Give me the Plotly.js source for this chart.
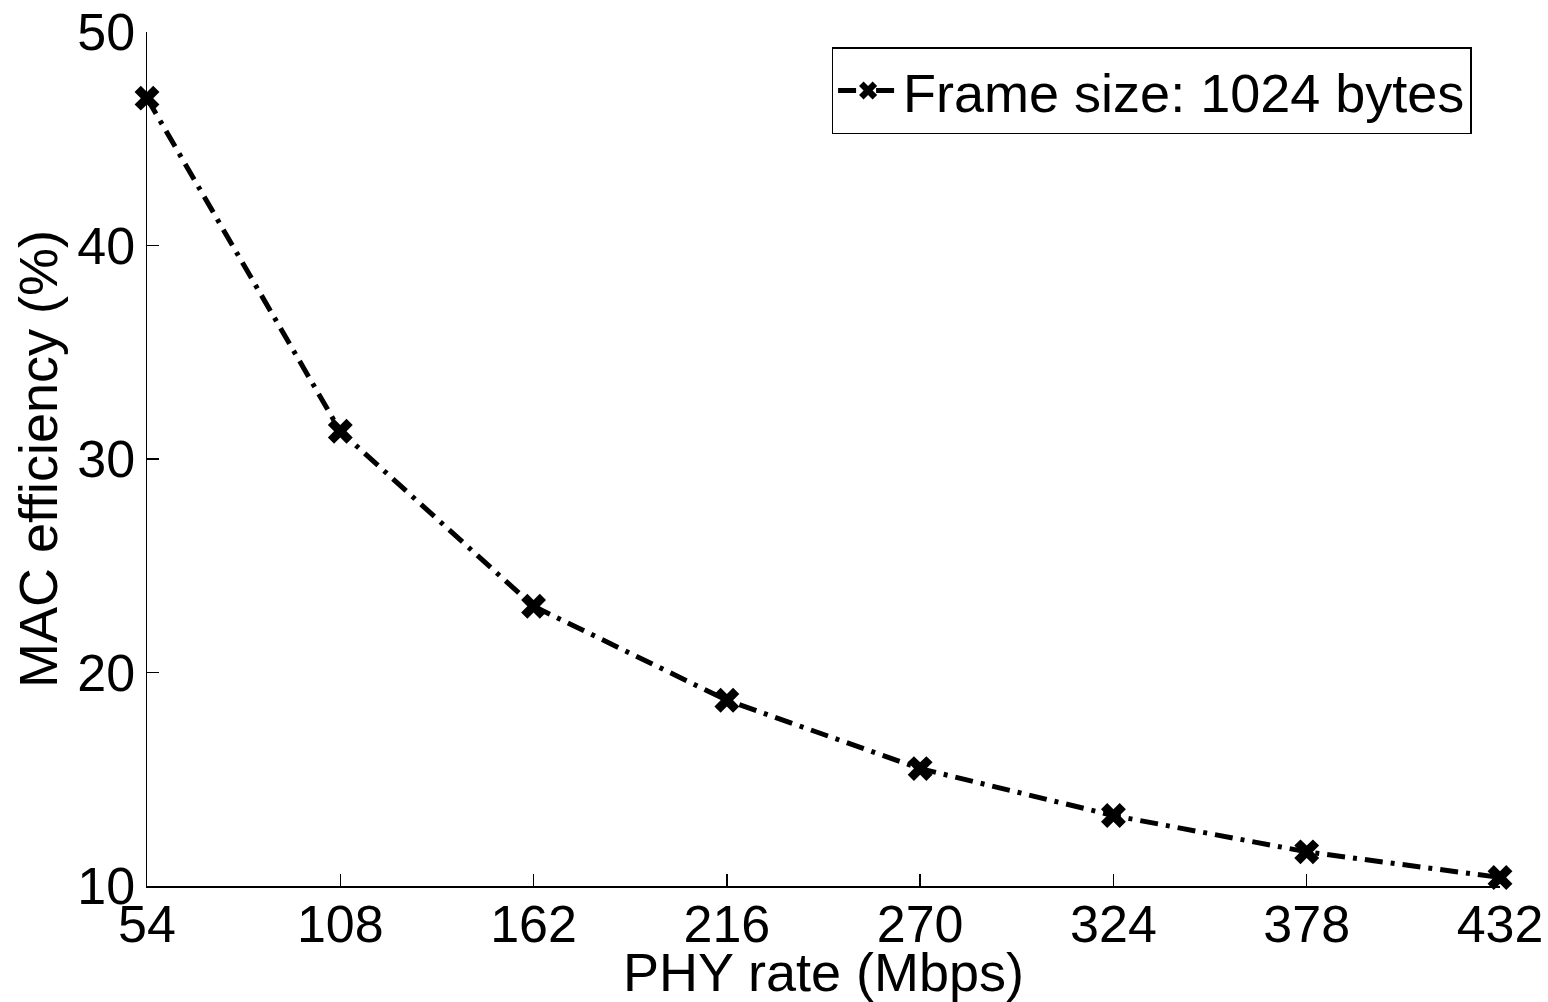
<!DOCTYPE html>
<html>
<head>
<meta charset="utf-8">
<script src="https://cdn.plot.ly/plotly-3.0.1.min.js"></script>
<style>html,body{margin:0;padding:0;background:#fff;}#chart{width:1548px;height:1002px;}</style>
</head>
<body>
<div id="chart"></div>
<script>
const phyRate = [54, 108, 162, 216, 270, 324, 378, 432];
const macEfficiency = [46.9, 31.3, 23.1, 18.7, 15.5, 13.3, 11.6, 10.4];
const xTicks = [54, 108, 162, 216, 270, 324, 378, 432];
const yTicks = [10, 20, 30, 40, 50];
const seriesName = 'Frame size: 1024 bytes';

const FONT = '"Liberation Sans", Arial, Helvetica, sans-serif';

const trace = {
  x: phyRate,
  y: macEfficiency,
  name: seriesName,
  type: 'scatter',
  mode: 'lines+markers',
  cliponaxis: false,
  line: {color: '#000', width: 5, dash: '18px,8px,4px,8px'},
  marker: {symbol: 'x', size: 22, color: '#000', line: {width: 0}},
  showlegend: true
};

const layout = {
  width: 1548,
  height: 1002,
  margin: {l: 147, r: 48, t: 32, b: 116},
  paper_bgcolor: '#fff',
  plot_bgcolor: '#fff',
  font: {family: FONT, size: 52, color: '#000'},
  xaxis: {
    range: [54, 432],
    tickvals: xTicks,
    ticktext: xTicks.map(String),
    ticks: 'inside',
    ticklen: 12,
    tickwidth: 1.5,
    tickcolor: '#000',
    ticklabelstandoff: -8,
    showline: true,
    linecolor: '#000',
    linewidth: 1.5,
    showgrid: false,
    zeroline: false,
    mirror: false,
    tickfont: {family: FONT, size: 52, color: '#000'},
    title: {text: 'PHY rate (Mbps)', font: {family: FONT, size: 54, color: '#000'}, standoff: 12},
    automargin: false
  },
  yaxis: {
    range: [10, 50],
    tickvals: yTicks,
    ticktext: yTicks.map(String),
    ticks: 'inside',
    ticklen: 12,
    tickwidth: 1.5,
    tickcolor: '#000',
    showline: true,
    linecolor: '#000',
    linewidth: 1.5,
    showgrid: false,
    zeroline: false,
    mirror: false,
    tickfont: {family: FONT, size: 52, color: '#000'},
    title: {text: 'MAC efficiency (%)', font: {family: FONT, size: 54, color: '#000'}, standoff: 2},
    automargin: false
  },
  legend: {
    x: 0.979,
    y: 0.982,
    xanchor: 'right',
    yanchor: 'top',
    bgcolor: '#fff',
    bordercolor: '#000',
    borderwidth: 1.5,
    font: {family: FONT, size: 54, color: '#000'},
    itemwidth: 60
  },
  showlegend: true
};

Plotly.newPlot('chart', [trace], layout, {displayModeBar: false, staticPlot: true});
</script>
</body>
</html>
